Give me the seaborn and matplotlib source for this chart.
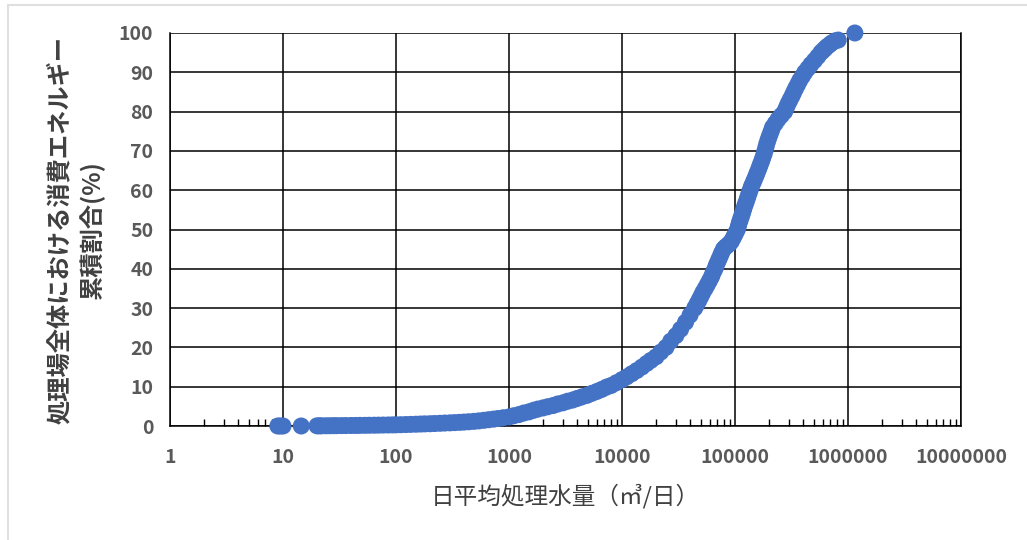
import numpy as np
import pandas as pd
import matplotlib
matplotlib.use("Agg")
import matplotlib.pyplot as plt
import matplotlib.ticker as mticker
from matplotlib.lines import Line2D
import seaborn as sns

# values (flow m3/day, cumulative share %)
flow = [9.0, 9.5, 10.0, 14.5, 20, 21, 22, 24, 26, 28, 30, 33, 36, 40,
        44, 48, 53, 58, 64, 70, 77, 85, 93, 100, 110, 122, 135, 150, 165, 180,
        200, 220, 245, 270, 300, 330, 365, 400, 440, 490, 540, 600, 660, 730,
        800, 890, 1000, 1100, 1220, 1350, 1500, 1650, 1800, 2000, 2200, 2450,
        2700, 3000, 3300, 3650, 4000, 4400, 4900, 5400, 6000, 6600, 7300, 8000,
        8900, 10000, 11000, 12200, 13500, 15000, 16500, 18000, 20000, 22000,
        24500, 27000, 30000, 33000, 36500, 40000, 44000,
        46000, 48000, 50000, 52000, 54500, 57000, 59500, 62000, 64000, 66500,
        68500, 71000, 73500, 76000, 79000, 82000, 86000, 90000, 93000, 97000,
        101000, 105000, 107500, 110000, 113000, 116000, 119000, 122000, 125500,
        129000, 132500, 136000, 140000, 145000, 150000, 155000, 160000, 165000,
        170000, 175000, 180000, 184000, 188000, 192000, 197000, 203000, 209000,
        215000, 227000, 240000, 257000, 275000, 285000, 295000, 307000, 320000,
        332000, 345000, 360000, 375000, 395000, 415000, 442000, 470000, 505000,
        540000, 575000, 600000, 625000, 650000, 685000, 720000, 770000, 820000,
        1150000]
share = [0.0, 0.0, 0.0, 0.0, 0.04, 0.04, 0.05, 0.06, 0.07, 0.08, 0.09,
         0.1, 0.11, 0.13, 0.14, 0.16, 0.17, 0.19, 0.2, 0.22, 0.24, 0.26, 0.28,
         0.3, 0.33, 0.37, 0.41, 0.45, 0.5, 0.54, 0.58, 0.63, 0.69, 0.75, 0.8,
         0.86, 0.93, 1.0, 1.08, 1.18, 1.3, 1.45, 1.6, 1.75, 1.9, 2.1, 2.3, 2.6,
         2.9, 3.3, 3.6, 4.0, 4.3, 4.6, 4.9, 5.2, 5.6, 5.9, 6.3, 6.6, 7.0, 7.4,
         7.8, 8.3, 8.8, 9.3, 9.9, 10.3, 11.0, 11.8, 12.5, 13.3, 14.1, 15.0,
         15.9, 16.7, 17.6, 18.8, 20.0, 21.6, 23.0, 24.6, 26.4, 28.2, 30.0,
         31, 32, 33, 34, 35, 36, 37, 38, 39, 40, 41, 42, 43, 44, 45, 45.5, 46,
         46.5, 47, 48, 49, 50, 51, 52, 53, 54, 55, 56, 57, 58, 59, 60, 61, 62,
         63, 64, 65, 66, 67, 68, 69, 70, 71, 72, 73, 74, 75, 76, 77, 78, 79, 80,
         81, 82, 83, 84, 85, 86, 87, 88, 89, 90, 91, 92, 93, 94, 95, 95.5, 96,
         96.5, 97, 97.5, 98, 98.2, 100]
x_ticks = [1, 10, 100, 1000, 10000, 100000, 1000000, 10000000]
y_ticks = [0, 10, 20, 30, 40, 50, 60, 70, 80, 90, 100]

df = pd.DataFrame({"flow": flow, "share": share})

sns.set_style("white")
plt.rcParams['font.family'] = ['Noto Sans CJK JP', 'DejaVu Sans']

fig = plt.figure(figsize=(10.27, 5.4), dpi=100)
ax = fig.add_axes([170 / 1027, 1 - 426 / 540, (961 - 170) / 1027, (426 - 33) / 540])

sns.scatterplot(data=df, x="flow", y="share", ax=ax, color="#4472C4",
                s=150, edgecolor="none", zorder=3, clip_on=False)

ax.set_xscale("log")
ax.set_xlim(1, 1e7)
ax.set_ylim(0, 100)
ax.set_xticks(x_ticks)
ax.set_xticklabels([str(v) for v in x_ticks])
ax.set_yticks(y_ticks)
ax.xaxis.set_minor_locator(mticker.LogLocator(base=10, subs=np.arange(2, 10)))
ax.xaxis.set_minor_formatter(mticker.NullFormatter())

ax.grid(True, which="major", color="black", linewidth=1.1)
ax.tick_params(axis="both", which="major", length=0, labelsize=14,
               labelcolor="#595959")
ax.tick_params(axis="x", which="major", pad=16)
ax.tick_params(axis="y", which="major", pad=12)
ax.tick_params(axis="x", which="minor", direction="in", length=5,
               width=1, color="black", bottom=True)
for lab in ax.get_xticklabels() + ax.get_yticklabels():
    lab.set_fontweight("bold")

for side in ["left", "bottom", "right"]:
    ax.spines[side].set_color("black")
    ax.spines[side].set_linewidth(1.1)
ax.spines["top"].set_visible(False)

ax.set_xlabel("日平均処理水量（㎥/日）", fontsize=17, color="#404040", labelpad=12)
ax.set_ylabel("処理場全体における消費エネルギー\n累積割合(%)", fontsize=17.5,
              fontweight="bold", color="#404040", labelpad=10, linespacing=1.35)

# faint frame of the original screenshot
fig.add_artist(Line2D([8 / 1027, 8 / 1027], [0, 1 - 5 / 540], color="#e0e0e0", lw=1.5))
fig.add_artist(Line2D([8 / 1027, 1], [1 - 5 / 540, 1 - 5 / 540], color="#e0e0e0", lw=1.5))

fig.savefig("out.png", dpi=100)
